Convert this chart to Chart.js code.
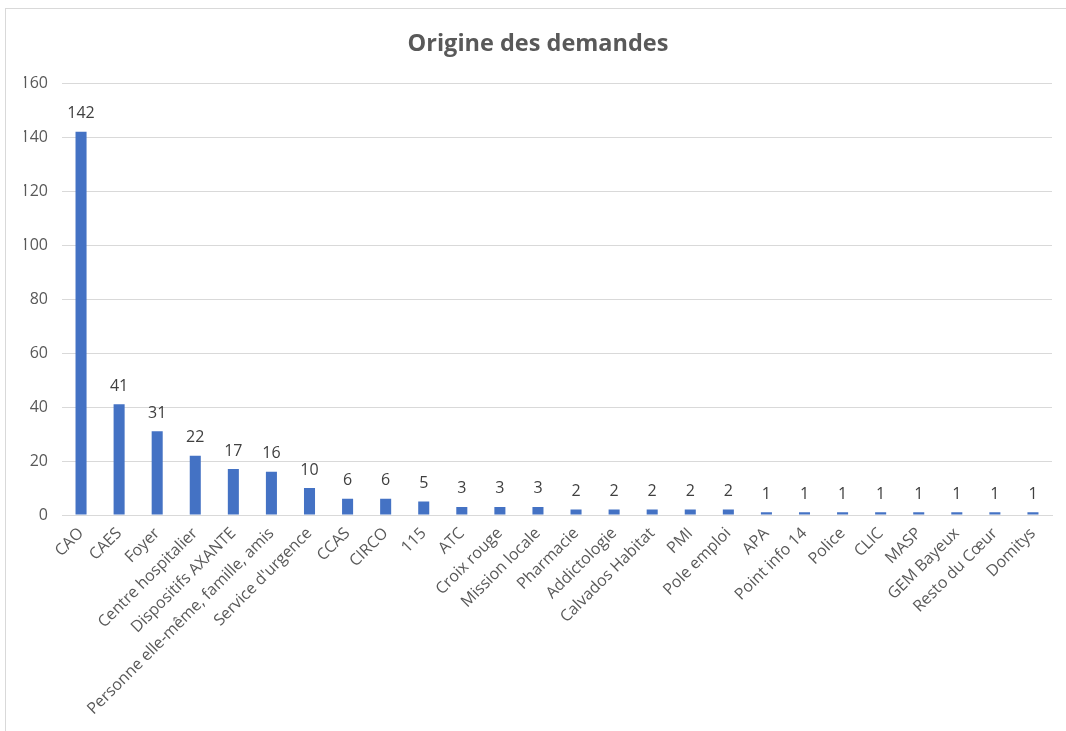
<!DOCTYPE html>
<html>
<head>
<meta charset="utf-8">
<script src="https://cdn.jsdelivr.net/npm/chart.js@4/dist/chart.umd.min.js"></script>
<style>
  html, body { margin: 0; padding: 0; background: #fff; }
  #frame { position: absolute; left: 5px; top: 8px; width: 1100px; height: 760px; border-left: 1px solid #d9d9d9; border-top: 1px solid #d9d9d9; }
  #wrap { position: absolute; left: 0; top: 0; width: 1066px; height: 731px; }
</style>
</head>
<body>
<div id="frame"></div>
<div id="wrap"><canvas id="c" width="1066" height="731"></canvas></div>
<script>
const categories = ["CAO", "CAES", "Foyer", "Centre hospitalier", "Dispositifs AXANTE", "Personne elle-même, famille, amis", "Service d'urgence", "CCAS", "CIRCO", "115", "ATC", "Croix rouge", "Mission locale", "Pharmacie", "Addictologie", "Calvados Habitat", "PMI", "Pole emploi", "APA", "Point info 14", "Police", "CLIC", "MASP", "GEM Bayeux", "Resto du Cœur", "Domitys"];
const values = [142, 41, 31, 22, 17, 16, 10, 6, 6, 5, 3, 3, 3, 2, 2, 2, 2, 2, 1, 1, 1, 1, 1, 1, 1, 1];
const yTicks = [0, 20, 40, 60, 80, 100, 120, 140, 160];
const chartTitle = "Origine des demandes";

const FONT = "'Open Sans', sans-serif";
const GREY = "#595959";

const valueLabels = {
  id: "valueLabels",
  afterDatasetsDraw(chart) {
    const ctx = chart.ctx;
    ctx.save();
    ctx.font = "16px " + FONT;
    ctx.fillStyle = "#404040";
    ctx.textAlign = "center";
    ctx.textBaseline = "bottom";
    chart.getDatasetMeta(0).data.forEach((bar, i) => {
      ctx.fillText(String(chart.data.datasets[0].data[i]), bar.x, bar.y - 10);
    });
    ctx.restore();
  }
};

new Chart(document.getElementById("c"), {
  type: "bar",
  data: {
    labels: categories,
    datasets: [{
      data: values,
      backgroundColor: "#4472C4",
      barPercentage: 0.58,
      categoryPercentage: 0.5
    }]
  },
  options: {
    responsive: false,
    animation: false,
    layout: { padding: { left: 24, right: 14, top: 0, bottom: 0 } },
    plugins: {
      legend: { display: false },
      tooltip: { enabled: false },
      title: {
        display: true,
        text: chartTitle,
        color: GREY,
        font: { family: FONT, size: 23.5, weight: "bold", lineHeight: 1.2 },
        padding: { top: 30, bottom: 25 }
      }
    },
    scales: {
      x: {
        grid: { display: false, drawTicks: false },
        border: { display: true, color: "#d9d9d9", width: 1 },
        ticks: {
          color: GREY,
          font: { family: FONT, size: 16 },
          maxRotation: 45,
          minRotation: 45,
          autoSkip: false,
          padding: 9
        },
        afterFit(scale) { scale.height = 216; }
      },
      y: {
        min: 0,
        max: 160,
        afterBuildTicks(axis) { axis.ticks = yTicks.map(v => ({ value: v })); },
        grid: { color: "#d9d9d9", drawTicks: false },
        border: { display: false },
        ticks: {
          color: GREY,
          font: { family: FONT, size: 16 },
          padding: 14
        },
        afterFit(scale) { scale.width = 38; }
      }
    }
  },
  plugins: [valueLabels]
});
</script>
</body>
</html>
